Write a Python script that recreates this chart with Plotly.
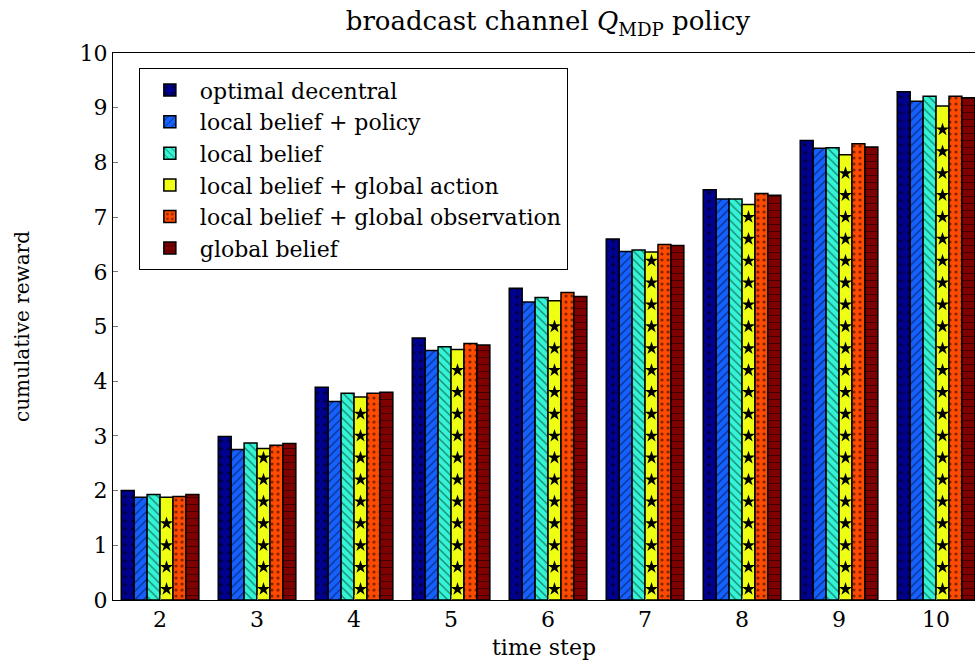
import numpy as np
import plotly.graph_objects as go

# time steps on the x axis
steps = [2, 3, 4, 5, 6, 7, 8, 9, 10]

# cumulative reward per method
optimal_decentral = [2.00, 2.99, 3.89, 4.79, 5.70, 6.60, 7.50, 8.40, 9.29]
local_belief_policy = [1.88, 2.75, 3.63, 4.56, 5.45, 6.37, 7.33, 8.26, 9.12]
local_belief = [1.93, 2.87, 3.78, 4.63, 5.53, 6.40, 7.33, 8.27, 9.21]
local_belief_global_action = [1.88, 2.77, 3.71, 4.58, 5.47, 6.36, 7.23, 8.14, 9.03]
local_belief_global_obs = [1.89, 2.83, 3.78, 4.69, 5.62, 6.50, 7.43, 8.34, 9.21]
global_belief = [1.93, 2.86, 3.80, 4.66, 5.55, 6.48, 7.40, 8.28, 9.18]

names = [
    "optimal decentral",
    "local belief + policy",
    "local belief",
    "local belief + global action",
    "local belief + global observation",
    "global belief",
]
series = [
    optimal_decentral,
    local_belief_policy,
    local_belief,
    local_belief_global_action,
    local_belief_global_obs,
    global_belief,
]
colors = ["#00008F", "#1560FF", "#33F5D5", "#EEFF14", "#FF4A00", "#7F0000"]
patterns = [
    dict(shape=".", size=8, solidity=0.18, fgcolor="black"),
    dict(shape="/", size=6, solidity=0.2, fgcolor="black"),
    dict(shape="\\", size=6, solidity=0.2, fgcolor="black"),
    dict(shape="", fgcolor="black"),
    dict(shape=".", size=6, solidity=0.22, fgcolor="black"),
    dict(shape="-", size=7, solidity=0.14, fgcolor="black"),
]

FONT = "DejaVu Serif"
BARGAP = 0.2

fig = go.Figure()
for name, vals, col, pat in zip(names, series, colors, patterns):
    fig.add_trace(go.Bar(
        x=steps, y=vals, name=name,
        marker=dict(color=col, line=dict(color="black", width=1.5), pattern=pat),
    ))

# star fill for the "global action" bars
bar_w = (1 - BARGAP) / len(series)
star_x, star_y = [], []
for s, v in zip(steps, local_belief_global_action):
    for y in np.arange(0.2, v - 0.15, 0.4):
        star_x.append(s + 0.5 * bar_w)
        star_y.append(y)
fig.add_trace(go.Scatter(
    x=star_x, y=star_y, mode="markers", showlegend=False, hoverinfo="skip",
    marker=dict(symbol="star", size=10, color="black", line=dict(width=0)),
))

fig.update_layout(
    width=975, height=660,
    margin=dict(l=113, r=0, t=53, b=60),
    paper_bgcolor="white", plot_bgcolor="white",
    barmode="group", bargap=BARGAP, bargroupgap=0,
    font=dict(family=FONT, size=20, color="black"),
    title=dict(
        text="broadcast channel <i>Q</i><sub>MDP</sub> policy",
        x=(113 + 983) / 2 / 975, xanchor="center", y=0.968, yanchor="middle",
        font=dict(family=FONT, size=26),
    ),
    legend=dict(
        x=0.03, y=0.972, xanchor="left", yanchor="top",
        bgcolor="white", bordercolor="black", borderwidth=1,
        font=dict(family=FONT, size=22), itemwidth=50, tracegroupgap=0,
    ),
    showlegend=True,
)
fig.update_xaxes(
    range=[1.515, 1.515 + 862 / 97], tickmode="array", tickvals=steps,
    showline=True, linecolor="black", linewidth=1, mirror=True,
    ticks="inside", ticklen=5, tickcolor="#777", showgrid=False, zeroline=False,
    title=dict(text="time step", font=dict(family=FONT, size=22), standoff=8),
    tickfont=dict(family=FONT, size=22),
)
fig.update_yaxes(
    range=[0, 10], tickmode="linear", tick0=0, dtick=1,
    showline=True, linecolor="black", linewidth=1,
    ticks="inside", ticklen=5, tickcolor="#777", showgrid=False, zeroline=False,
    title=dict(text="cumulative reward", font=dict(family=FONT, size=20), standoff=44),
    tickfont=dict(family=FONT, size=22),
)

fig.write_html("out.html")
